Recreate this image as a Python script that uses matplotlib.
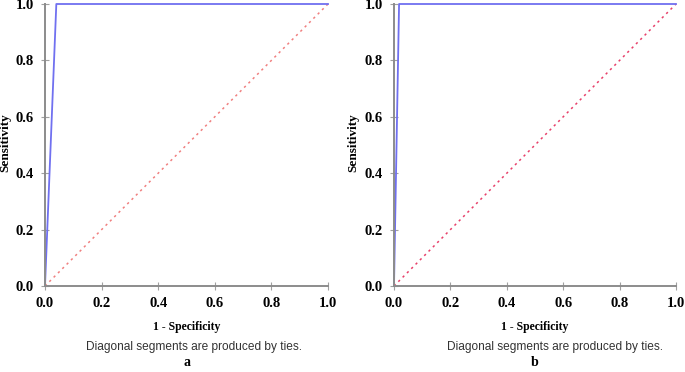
import matplotlib
matplotlib.use("Agg")
import matplotlib.pyplot as plt

# ROC curves: (1 - specificity, sensitivity)
fpr_a = [0.0, 0.04, 1.0]
tpr_a = [0.0, 1.0, 1.0]
fpr_b = [0.0, 0.018, 1.0]
tpr_b = [0.0, 1.0, 1.0]
ref_line = [0.0, 1.0]
ticks = [0.0, 0.2, 0.4, 0.6, 0.8, 1.0]
tick_labels = ["0.0", "0.2", "0.4", "0.6", "0.8", "1.0"]
panel_labels = ["a", "b"]
note = "Diagonal segments are produced by ties."

SERIF = "Liberation Serif"
SANS = "Liberation Sans"


def roc_panel(ax, fpr, tpr, diag_color, label, ylab_x, note_x):
    ax.plot(ref_line, ref_line, ls=(0, (1.5, 2.5)), color=diag_color, lw=1.1, clip_on=False)
    ax.plot(fpr, tpr, color="#7070f0", lw=1.3, clip_on=False)
    ax.set_xlim(0, 1); ax.set_ylim(0, 1)
    for s in ("top", "right"):
        ax.spines[s].set_visible(False)
    for s in ("left", "bottom"):
        ax.spines[s].set_color("#8c8c8c"); ax.spines[s].set_linewidth(1.4)
    ax.set_xticks(ticks); ax.set_yticks(ticks)
    ax.set_xticklabels(tick_labels, family=SERIF, weight="bold", fontsize=10.5)
    ax.set_yticklabels(tick_labels, family=SERIF, weight="bold", fontsize=10.5)
    ax.tick_params(direction="inout", length=6, width=0.8, color="#a0a0a0", pad=5)
    ax.set_xlabel("1 - Specificity", family=SERIF, weight="bold", fontsize=8.5)
    ax.xaxis.set_label_coords(0.5, -0.125)
    ax.set_ylabel("Sensitivity", family=SERIF, weight="bold", fontsize=9.5)
    ax.yaxis.set_label_coords(ylab_x, 0.51)
    ax.text(note_x, -0.215, note, transform=ax.transAxes, ha="left", va="center",
            family=SANS, fontsize=8.6, color="#333333")
    ax.text(0.5, -0.272, label, transform=ax.transAxes, ha="center", va="center",
            family=SERIF, weight="bold", fontsize=10)


def main():
    fig = plt.figure(figsize=(6.85, 3.72), dpi=100)
    ax_a = fig.add_axes([45 / 685, 1 - 286 / 372, 283 / 685, 282 / 372])
    ax_b = fig.add_axes([394 / 685, 1 - 286 / 372, 282 / 685, 282 / 372])
    roc_panel(ax_a, fpr_a, tpr_a, "#f08080", panel_labels[0], -0.12, 0.145)
    roc_panel(ax_b, fpr_b, tpr_b, "#e8406a", panel_labels[1], -0.124, 0.188)
    fig.savefig("out.png", dpi=100)


if __name__ == "__main__":
    main()
